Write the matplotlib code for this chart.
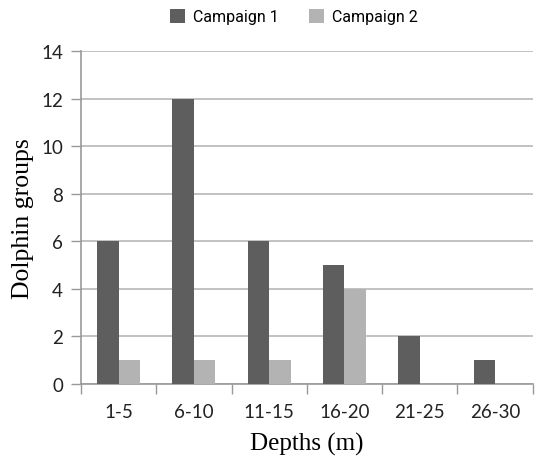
import matplotlib
matplotlib.use("Agg")
import matplotlib.pyplot as plt
import numpy as np

categories = ["1-5", "6-10", "11-15", "16-20", "21-25", "26-30"]
campaign1 = [6, 12, 6, 5, 2, 1]
campaign2 = [1, 1, 1, 4, 0, 0]
series_names = ["Campaign 1", "Campaign 2"]
yticks = [0, 2, 4, 6, 8, 10, 12, 14]

fig = plt.figure(figsize=(5.39, 4.60), dpi=100)
ax = fig.add_axes([0.1503, 0.163, 0.838, 0.724])

x = np.arange(len(categories))
w = 0.285
c1, c2 = "#5e5e5e", "#b3b3b3"
b1 = ax.bar(x - w / 2, campaign1, w, color=c1, label=series_names[0], zorder=3)
b2 = ax.bar(x + w / 2, campaign2, w, color=c2, label=series_names[1], zorder=3)

ax.set_xlim(-0.5, len(categories) - 0.5)
ax.set_ylim(0, 14)
ax.set_yticks(yticks)
ax.yaxis.grid(True, color="#b8b8b8", linewidth=1.2, zorder=0)
ax.set_axisbelow(True)

ax.set_xticks(np.arange(len(categories) + 1) - 0.5, minor=False)
ax.set_xticklabels([])
ax.set_xticks(x, minor=True)
ax.set_xticklabels(categories, minor=True, fontsize=13.5, family="Lato", color="#222222")
ax.tick_params(axis="x", which="minor", length=0, pad=14)
ax.tick_params(axis="x", which="major", length=7, color="#999999", width=1)
ax.tick_params(axis="y", length=7, color="#999999", width=1, pad=6,
               labelsize=13.5, labelcolor="#222222")
for lbl in ax.get_yticklabels():
    lbl.set_family("Lato")

for s in ["top", "right"]:
    ax.spines[s].set_visible(False)
ax.spines["left"].set_color("#999999")
ax.spines["bottom"].set_color("#999999")
ax.spines["left"].set_linewidth(1.2)
ax.spines["bottom"].set_linewidth(1.2)

ax.set_xlabel("Depths (m)", family="Liberation Serif", fontsize=18, labelpad=8)
ax.set_ylabel("Dolphin groups", family="Liberation Serif", fontsize=18.5, labelpad=5)

fig.legend(handles=[b1, b2], labels=series_names, loc="upper center",
           bbox_to_anchor=(0.545, 1.01), ncol=2, frameon=False,
           prop={"family": "Roboto", "size": 11.5}, handlelength=0.95,
           handleheight=0.95, columnspacing=1.9, handletextpad=0.5)

fig.savefig("out.png", dpi=100)
